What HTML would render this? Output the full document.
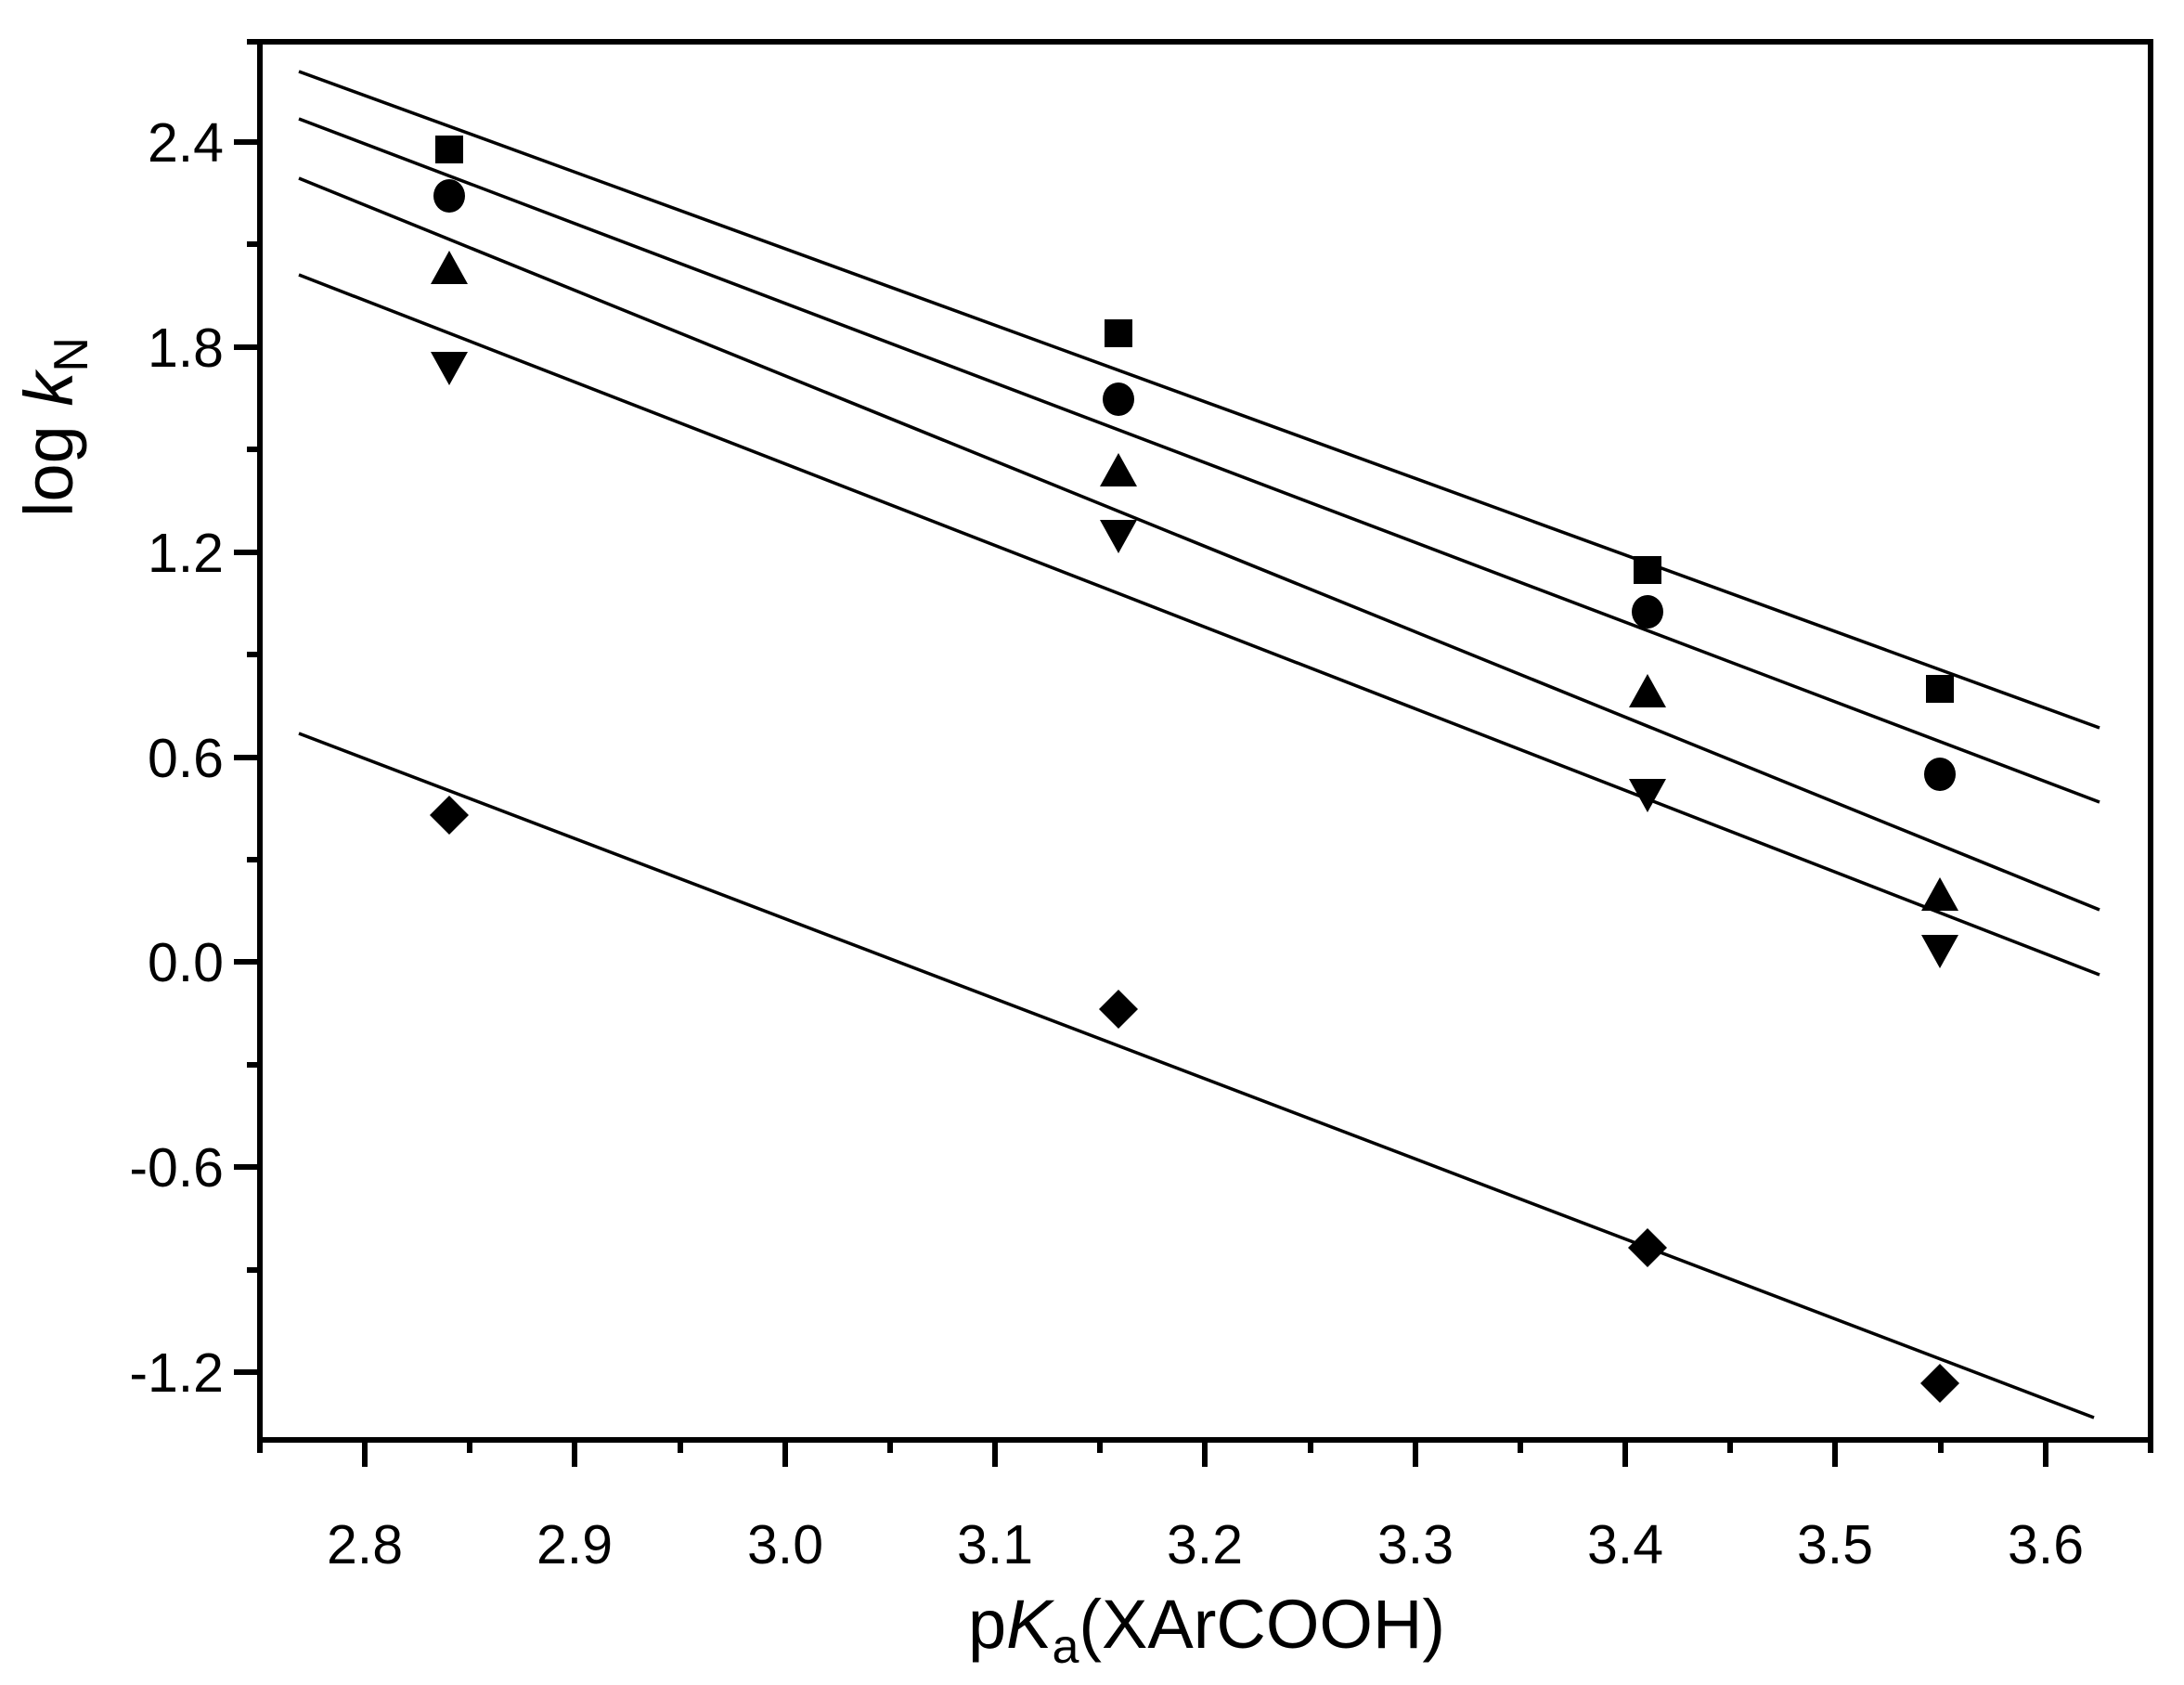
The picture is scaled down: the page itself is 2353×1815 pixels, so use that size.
<!DOCTYPE html>
<html><head><meta charset="utf-8"><style>html,body{margin:0;padding:0;background:#fff}svg{display:block}</style></head>
<body>
<svg width="2353" height="1815" viewBox="0 0 2353 1815" xmlns="http://www.w3.org/2000/svg" font-family="Liberation Sans, Arial, sans-serif">
<rect width="2353" height="1815" fill="#fff"/>
<g stroke="#000" stroke-width="3.5">
<line x1="322" y1="77" x2="2262" y2="784"/>
<line x1="322" y1="128" x2="2262" y2="864"/>
<line x1="322" y1="192" x2="2262" y2="980"/>
<line x1="322" y1="296" x2="2262" y2="1050"/>
<line x1="322" y1="790" x2="2256" y2="1527"/>
</g>
<rect x="280" y="45" width="2037" height="1506" fill="none" stroke="#000" stroke-width="6"/>
<g stroke="#000" stroke-width="6">
<line x1="393" y1="1551" x2="393" y2="1580"/><line x1="619" y1="1551" x2="619" y2="1580"/>
<line x1="846" y1="1551" x2="846" y2="1580"/><line x1="1072" y1="1551" x2="1072" y2="1580"/>
<line x1="1298" y1="1551" x2="1298" y2="1580"/><line x1="1525" y1="1551" x2="1525" y2="1580"/>
<line x1="1751" y1="1551" x2="1751" y2="1580"/><line x1="1977" y1="1551" x2="1977" y2="1580"/>
<line x1="2204" y1="1551" x2="2204" y2="1580"/>
<line x1="280" y1="1551" x2="280" y2="1565"/><line x1="506" y1="1551" x2="506" y2="1565"/>
<line x1="733" y1="1551" x2="733" y2="1565"/><line x1="959" y1="1551" x2="959" y2="1565"/>
<line x1="1185" y1="1551" x2="1185" y2="1565"/><line x1="1412" y1="1551" x2="1412" y2="1565"/>
<line x1="1638" y1="1551" x2="1638" y2="1565"/><line x1="1864" y1="1551" x2="1864" y2="1565"/>
<line x1="2091" y1="1551" x2="2091" y2="1565"/><line x1="2317" y1="1551" x2="2317" y2="1565"/>
<line x1="252" y1="153" x2="280" y2="153"/><line x1="252" y1="374" x2="280" y2="374"/>
<line x1="252" y1="595" x2="280" y2="595"/><line x1="252" y1="816" x2="280" y2="816"/>
<line x1="252" y1="1036" x2="280" y2="1036"/><line x1="252" y1="1257" x2="280" y2="1257"/>
<line x1="252" y1="1478" x2="280" y2="1478"/>
<line x1="266" y1="45" x2="280" y2="45"/>
<line x1="266" y1="263" x2="280" y2="263"/><line x1="266" y1="484" x2="280" y2="484"/>
<line x1="266" y1="705" x2="280" y2="705"/><line x1="266" y1="926" x2="280" y2="926"/>
<line x1="266" y1="1147" x2="280" y2="1147"/><line x1="266" y1="1368" x2="280" y2="1368"/>
</g>
<g font-size="59" fill="#000" text-anchor="middle">
<text x="393" y="1684">2.8</text><text x="619" y="1684">2.9</text><text x="846" y="1684">3.0</text>
<text x="1072" y="1684">3.1</text><text x="1298" y="1684">3.2</text><text x="1525" y="1684">3.3</text>
<text x="1751" y="1684">3.4</text><text x="1977" y="1684">3.5</text><text x="2204" y="1684">3.6</text>
</g>
<g font-size="59" fill="#000" text-anchor="end">
<text x="241" y="174">2.4</text><text x="241" y="395">1.8</text><text x="241" y="616">1.2</text>
<text x="241" y="837">0.6</text><text x="241" y="1057">0.0</text><text x="241" y="1278">-0.6</text>
<text x="241" y="1499">-1.2</text>
</g>
<text x="1300" y="1775" font-size="74" text-anchor="middle" fill="#000">p<tspan font-style="italic">K</tspan><tspan font-size="52" dy="16">a</tspan><tspan dy="-16">(XArCOOH)</tspan></text>
<text transform="translate(78,460) rotate(-90)" font-size="74" text-anchor="middle" fill="#000">log <tspan font-style="italic">k</tspan><tspan font-size="52" dy="16">N</tspan></text>
<g fill="#000">
<rect x="469" y="146" width="30" height="30"/><rect x="1190" y="344" width="30" height="30"/>
<rect x="1760" y="599" width="30" height="30"/><rect x="2075" y="727" width="30" height="30"/>
<ellipse cx="484" cy="211" rx="17" ry="18"/><ellipse cx="1205" cy="430" rx="17" ry="18"/>
<ellipse cx="1775" cy="659" rx="17" ry="18"/><ellipse cx="2090" cy="834" rx="17" ry="18"/>
<polygon points="484,270 504,306 464,306"/><polygon points="1205,488 1225,524 1185,524"/>
<polygon points="1775,726 1795,762 1755,762"/><polygon points="2090,945 2110,981 2070,981"/>
<polygon points="464,379 504,379 484,415"/><polygon points="1185,560 1225,560 1205,596"/>
<polygon points="1755,839 1795,839 1775,875"/><polygon points="2070,1007 2110,1007 2090,1043"/>
<polygon points="484,857 505,878 484,899 463,878"/><polygon points="1205,1066 1226,1087 1205,1108 1184,1087"/>
<polygon points="1775,1323 1796,1344 1775,1365 1754,1344"/><polygon points="2090,1469 2111,1490 2090,1511 2069,1490"/>
</g>
</svg>
</body></html>
